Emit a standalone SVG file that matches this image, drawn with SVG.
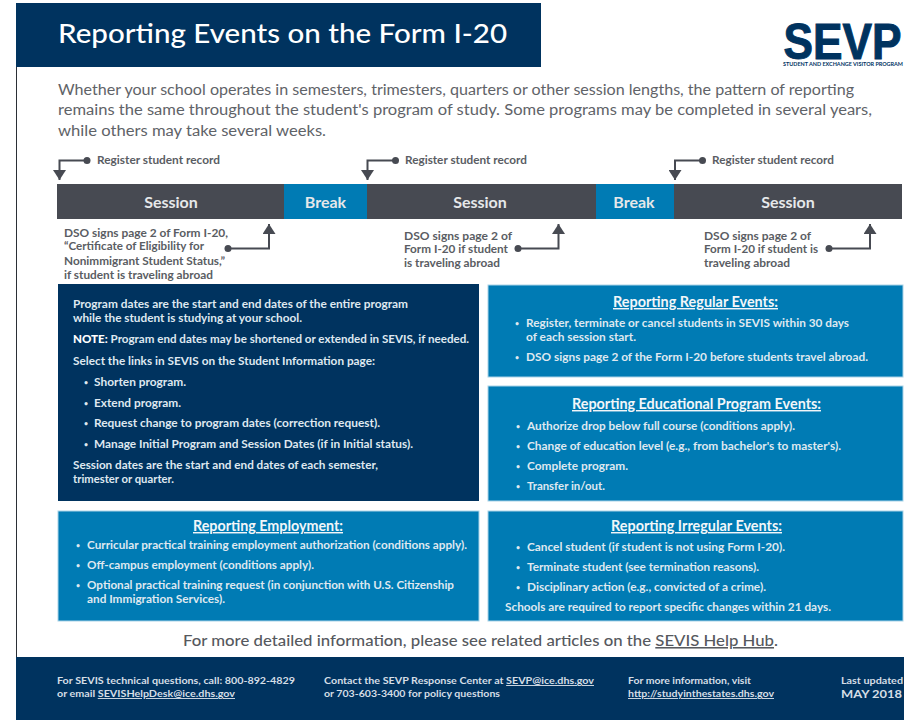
<svg xmlns="http://www.w3.org/2000/svg" width="904" height="721" viewBox="0 0 904 721">
<defs>
<style>
text{font-family:"Lato","Liberation Sans",sans-serif}
.g{fill:#5a5d63;font-size:11px;font-weight:700}
.w{fill:#dfe8f0;font-size:11px;font-weight:700}
.b{fill:#dfe8f0;font-size:7px;font-weight:700}
.h{fill:#f2f6f9;font-size:14.5px;font-weight:700;text-anchor:start;text-decoration:underline}
.bar{fill:#e6e8ea;font-size:16px;font-weight:700;text-anchor:middle}
.intro{fill:#5f6368;font-size:15.5px}
.foot{fill:#d5dee6;font-size:9.5px;font-weight:700}
.c{fill:none;stroke:#474a52;stroke-width:2}
.d{fill:#474a52}
.navy{fill:#00335f}
.blue{fill:#007bb4;stroke:#a9d3e8;stroke-width:1}
</style>
<marker id="arrow" markerUnits="userSpaceOnUse" markerWidth="11" markerHeight="13" refX="10" refY="6.500" orient="auto"><path d="M0 0L10 6.500L0 13z" fill="#474a52"/></marker>
</defs>
<rect width="904" height="721" fill="#fff"/>
<path d="M16.500 67V657" stroke="#2b2f36" stroke-width="1" fill="none"/>
<g id="header">
<rect class="navy" x="16" y="3" width="525" height="64"/>
<text x="58" y="43" fill="#fff" font-size="27" font-weight="500" textLength="449" lengthAdjust="spacingAndGlyphs">Reporting Events on the Form I-20</text>
</g>
<g id="logo">
<text x="783.500" y="59" fill="#00335f" font-size="50" font-weight="700" stroke="#00335f" stroke-width="1" textLength="118" lengthAdjust="spacingAndGlyphs" style="font-family:'Liberation Sans',sans-serif">SEVP</text>
<text x="783" y="65.500" fill="#00335f" font-size="4.800" font-weight="700" textLength="120" lengthAdjust="spacingAndGlyphs">STUDENT AND EXCHANGE VISITOR PROGRAM</text>
</g>
<g id="intro">
<text class="intro" x="58" y="95" textLength="796" lengthAdjust="spacingAndGlyphs">Whether your school operates in semesters, trimesters, quarters or other session lengths, the pattern of reporting</text>
<text class="intro" x="58" y="115" textLength="814" lengthAdjust="spacingAndGlyphs">remains the same throughout the student's program of study. Some programs may be completed in several years,</text>
<text class="intro" x="58" y="136" textLength="268" lengthAdjust="spacingAndGlyphs">while others may take several weeks.</text>
</g>
<g id="session-1"><rect x="57" y="184" width="227" height="35" fill="#474a52"/><text class="bar" x="171" y="208">Session</text></g>
<g id="break-1"><rect x="284" y="184" width="83" height="35" fill="#007bb4"/><text class="bar" x="325.500" y="208">Break</text></g>
<g id="session-2"><rect x="367" y="184" width="229" height="35" fill="#474a52"/><text class="bar" x="480" y="208">Session</text></g>
<g id="break-2"><rect x="596" y="184" width="78" height="35" fill="#007bb4"/><text class="bar" x="634" y="208">Break</text></g>
<g id="session-3"><rect x="674" y="184" width="228" height="35" fill="#474a52"/><text class="bar" x="788" y="208">Session</text></g>
<g id="connectors">
<path class="c" marker-end="url(#arrow)" d="M87 160.500H59.500V180"/><circle class="d" cx="87" cy="160.500" r="3.500"/>
<path class="c" marker-end="url(#arrow)" d="M395.500 160.500H367.500V180"/><circle class="d" cx="395.500" cy="160.500" r="3.500"/>
<path class="c" marker-end="url(#arrow)" d="M702.500 160.500H675V180"/><circle class="d" cx="702.500" cy="160.500" r="3.500"/>
<path class="c" marker-end="url(#arrow)" d="M228 248.500H269V224"/><circle class="d" cx="228" cy="248.500" r="3.500"/>
<path class="c" marker-end="url(#arrow)" d="M518 248.500H558.500V224"/><circle class="d" cx="518" cy="248.500" r="3.500"/>
<path class="c" marker-end="url(#arrow)" d="M829 248.500H870V224"/><circle class="d" cx="829" cy="248.500" r="3.500"/>
</g>
<g id="register-labels">
<text class="g" x="97" y="164" textLength="123" lengthAdjust="spacingAndGlyphs">Register student record</text>
<text class="g" x="405" y="164" textLength="122" lengthAdjust="spacingAndGlyphs">Register student record</text>
<text class="g" x="712" y="164" textLength="122" lengthAdjust="spacingAndGlyphs">Register student record</text>
</g>
<g id="dso-1">
<text class="g" x="64" y="237" textLength="164" lengthAdjust="spacingAndGlyphs">DSO signs page 2 of Form I-20,</text>
<text class="g" x="64" y="250" textLength="140" lengthAdjust="spacingAndGlyphs">“Certificate of Eligibility for</text>
<text class="g" x="64" y="265" textLength="161" lengthAdjust="spacingAndGlyphs">Nonimmigrant Student Status,”</text>
<text class="g" x="64" y="279" textLength="149" lengthAdjust="spacingAndGlyphs">if student is traveling abroad</text>
</g>
<g id="dso-2">
<text class="g" x="404" y="240" textLength="108" lengthAdjust="spacingAndGlyphs">DSO signs page 2 of</text>
<text class="g" x="404" y="253" textLength="104" lengthAdjust="spacingAndGlyphs">Form I-20 if student</text>
<text class="g" x="404" y="267" textLength="96" lengthAdjust="spacingAndGlyphs">is traveling abroad</text>
</g>
<g id="dso-3">
<text class="g" x="704" y="240" textLength="107" lengthAdjust="spacingAndGlyphs">DSO signs page 2 of</text>
<text class="g" x="704" y="253" textLength="114" lengthAdjust="spacingAndGlyphs">Form I-20 if student is</text>
<text class="g" x="704" y="267" textLength="86" lengthAdjust="spacingAndGlyphs">traveling abroad</text>
</g>
<g id="program-dates">
<rect x="58" y="284" width="421" height="217" fill="#00335f"/>
<text class="w" x="73" y="308" textLength="335" lengthAdjust="spacingAndGlyphs">Program dates are the start and end dates of the entire program</text>
<text class="w" x="73" y="322" textLength="229" lengthAdjust="spacingAndGlyphs">while the student is studying at your school.</text>
<text class="w" x="73" y="343" textLength="396" lengthAdjust="spacingAndGlyphs"><tspan font-weight="900" fill="#fff">NOTE:</tspan> Program end dates may be shortened or extended in SEVIS, if needed.</text>
<text class="w" x="73" y="365" textLength="302" lengthAdjust="spacingAndGlyphs">Select the links in SEVIS on the Student Information page:</text>
<text class="b" x="84" y="385">•</text><text class="w" x="94" y="386" textLength="92" lengthAdjust="spacingAndGlyphs">Shorten program.</text>
<text class="b" x="84" y="406">•</text><text class="w" x="94" y="407" textLength="87" lengthAdjust="spacingAndGlyphs">Extend program.</text>
<text class="b" x="84" y="426">•</text><text class="w" x="94" y="427" textLength="286" lengthAdjust="spacingAndGlyphs">Request change to program dates (correction request).</text>
<text class="b" x="84" y="447">•</text><text class="w" x="94" y="448" textLength="319" lengthAdjust="spacingAndGlyphs">Manage Initial Program and Session Dates (if in Initial status).</text>
<text class="w" x="73" y="469" textLength="305" lengthAdjust="spacingAndGlyphs">Session dates are the start and end dates of each semester,</text>
<text class="w" x="73" y="483" textLength="101" lengthAdjust="spacingAndGlyphs">trimester or quarter.</text>
</g>
<g id="regular-events">
<rect class="blue" x="488" y="285" width="415" height="92"/>
<text class="h" x="613" y="307" textLength="165" lengthAdjust="spacingAndGlyphs">Reporting Regular Events:</text>
<text class="b" x="515" y="326">•</text><text class="w" x="526" y="327" textLength="323" lengthAdjust="spacingAndGlyphs">Register, terminate or cancel students in SEVIS within 30 days</text>
<text class="w" x="526" y="341" textLength="110" lengthAdjust="spacingAndGlyphs">of each session start.</text>
<text class="b" x="515" y="360">•</text><text class="w" x="526" y="361" textLength="342" lengthAdjust="spacingAndGlyphs">DSO signs page 2 of the Form I-20 before students travel abroad.</text>
</g>
<g id="educational-events">
<rect class="blue" x="488" y="386" width="415" height="115"/>
<text class="h" x="572" y="409" textLength="249" lengthAdjust="spacingAndGlyphs">Reporting Educational Program Events:</text>
<text class="b" x="516" y="429">•</text><text class="w" x="527" y="430" textLength="268" lengthAdjust="spacingAndGlyphs">Authorize drop below full course (conditions apply).</text>
<text class="b" x="516" y="449">•</text><text class="w" x="527" y="450" textLength="314" lengthAdjust="spacingAndGlyphs">Change of education level (e.g., from bachelor's to master's).</text>
<text class="b" x="516" y="469">•</text><text class="w" x="527" y="470" textLength="101" lengthAdjust="spacingAndGlyphs">Complete program.</text>
<text class="b" x="516" y="489">•</text><text class="w" x="527" y="490" textLength="78" lengthAdjust="spacingAndGlyphs">Transfer in/out.</text>
</g>
<g id="employment">
<rect class="blue" x="58" y="511" width="421" height="110"/>
<text class="h" x="193" y="531" textLength="150" lengthAdjust="spacingAndGlyphs">Reporting Employment:</text>
<text class="b" x="76" y="548">•</text><text class="w" x="87" y="549" textLength="380" lengthAdjust="spacingAndGlyphs">Curricular practical training employment authorization (conditions apply).</text>
<text class="b" x="76" y="568">•</text><text class="w" x="87" y="569" textLength="227" lengthAdjust="spacingAndGlyphs">Off-campus employment (conditions apply).</text>
<text class="b" x="76" y="588">•</text><text class="w" x="87" y="589" textLength="367" lengthAdjust="spacingAndGlyphs">Optional practical training request (in conjunction with U.S. Citizenship</text>
<text class="w" x="87" y="603" textLength="138" lengthAdjust="spacingAndGlyphs">and Immigration Services).</text>
</g>
<g id="irregular-events">
<rect class="blue" x="488" y="511" width="415" height="110"/>
<text class="h" x="611" y="531" textLength="171" lengthAdjust="spacingAndGlyphs">Reporting Irregular Events:</text>
<text class="b" x="516" y="550">•</text><text class="w" x="527" y="551" textLength="258" lengthAdjust="spacingAndGlyphs">Cancel student (if student is not using Form I-20).</text>
<text class="b" x="516" y="570">•</text><text class="w" x="527" y="571" textLength="232" lengthAdjust="spacingAndGlyphs">Terminate student (see termination reasons).</text>
<text class="b" x="516" y="590">•</text><text class="w" x="527" y="591" textLength="239" lengthAdjust="spacingAndGlyphs">Disciplinary action (e.g., convicted of a crime).</text>
<text class="w" x="505" y="611" textLength="326" lengthAdjust="spacingAndGlyphs">Schools are required to report specific changes within 21 days.</text>
</g>
<g id="help-hub">
<text x="183" y="646" fill="#56595e" font-size="15.500" font-weight="500" textLength="595" lengthAdjust="spacingAndGlyphs">For more detailed information, please see related articles on the <tspan text-decoration="underline">SEVIS Help Hub</tspan>.</text>
</g>
<g id="footer">
<rect class="navy" x="16" y="657" width="888" height="63"/>
<text class="foot" x="57" y="684" textLength="238" lengthAdjust="spacingAndGlyphs">For SEVIS technical questions, call: 800-892-4829</text>
<text class="foot" x="57" y="697" textLength="178" lengthAdjust="spacingAndGlyphs">or email <tspan text-decoration="underline">SEVISHelpDesk@ice.dhs.gov</tspan></text>
<text class="foot" x="324" y="684" textLength="270" lengthAdjust="spacingAndGlyphs">Contact the SEVP Response Center at <tspan text-decoration="underline">SEVP@ice.dhs.gov</tspan></text>
<text class="foot" x="324" y="697" textLength="176" lengthAdjust="spacingAndGlyphs">or 703-603-3400 for policy questions</text>
<text class="foot" x="628" y="684" textLength="123" lengthAdjust="spacingAndGlyphs">For more information, visit</text>
<text class="foot" x="628" y="697" textLength="146" lengthAdjust="spacingAndGlyphs" text-decoration="underline">http://studyinthestates.dhs.gov</text>
<text class="foot" x="841" y="684" textLength="62" lengthAdjust="spacingAndGlyphs">Last updated</text>
<text class="foot" x="841" y="698" fill="#fff" textLength="61" lengthAdjust="spacingAndGlyphs" style="font-size:11px">MAY 2018</text>
</g>
</svg>
